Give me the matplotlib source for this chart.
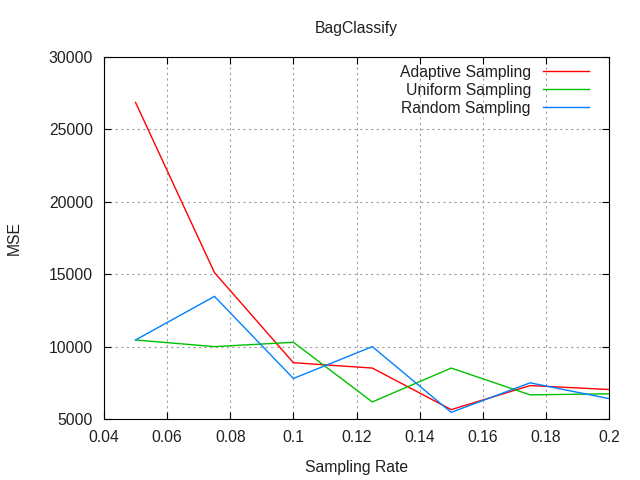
import matplotlib
matplotlib.use("Agg")
import matplotlib.pyplot as plt

plt.rcParams['font.family'] = ['Liberation Sans', 'DejaVu Sans']

rates = [0.05, 0.075, 0.1, 0.125, 0.15, 0.175, 0.2]
adaptive = [26860, 15110, 8890, 8520, 5650, 7310, 7040]
uniform = [10460, 10000, 10300, 6180, 8520, 6670, 6740]
random_s = [10460, 13470, 7800, 10000, 5460, 7500, 6410]

xticks = [0.04, 0.06, 0.08, 0.1, 0.12, 0.14, 0.16, 0.18, 0.2]
xtick_labels = ['0.04', '0.06', '0.08', '0.1', '0.12', '0.14', '0.16', '0.18', '0.2']
yticks = [5000, 10000, 15000, 20000, 25000, 30000]


def plot_bag():
    fig = plt.figure(figsize=(6.4, 4.8), dpi=100)
    ax = fig.add_axes([0.1625, 0.127, 0.7891, 0.7543])

    ax.plot(rates, adaptive, color='#ff0000', lw=1, label='Adaptive Sampling')
    ax.plot(rates, uniform, color='#00c000', lw=1, label='Uniform Sampling')
    ax.plot(rates, random_s, color='#0080ff', lw=1, label='Random Sampling')

    ax.set_xlim(0.04, 0.2)
    ax.set_ylim(5000, 30000)
    ax.set_xticks(xticks)
    ax.set_xticklabels(xtick_labels)
    ax.set_yticks(yticks)
    ax.tick_params(direction='in', top=True, right=True, length=5,
                   labelsize=11.3, pad=8, labelcolor='#202020')
    ax.grid(True, color='#a0a0a0', linestyle=(0, (2, 3)), lw=0.8)

    ax.set_title("BagClassify", fontsize=11.3, pad=17, color='#202020')
    ax.set_xlabel("Sampling Rate", fontsize=11.3, labelpad=11, color='#202020')
    ax.set_ylabel("MSE", fontsize=11.3, labelpad=19, color='#202020')

    leg = ax.legend(loc='upper right', frameon=False, markerfirst=False, fontsize=11.3,
                    handlelength=2.9, handletextpad=0.8, labelspacing=0.2,
                    borderaxespad=0.2, bbox_to_anchor=(0.979, 1.005))
    for t in leg.get_texts():
        t.set_color('#202020')

    fig.savefig('out.png', dpi=100)


if __name__ == '__main__':
    plot_bag()
